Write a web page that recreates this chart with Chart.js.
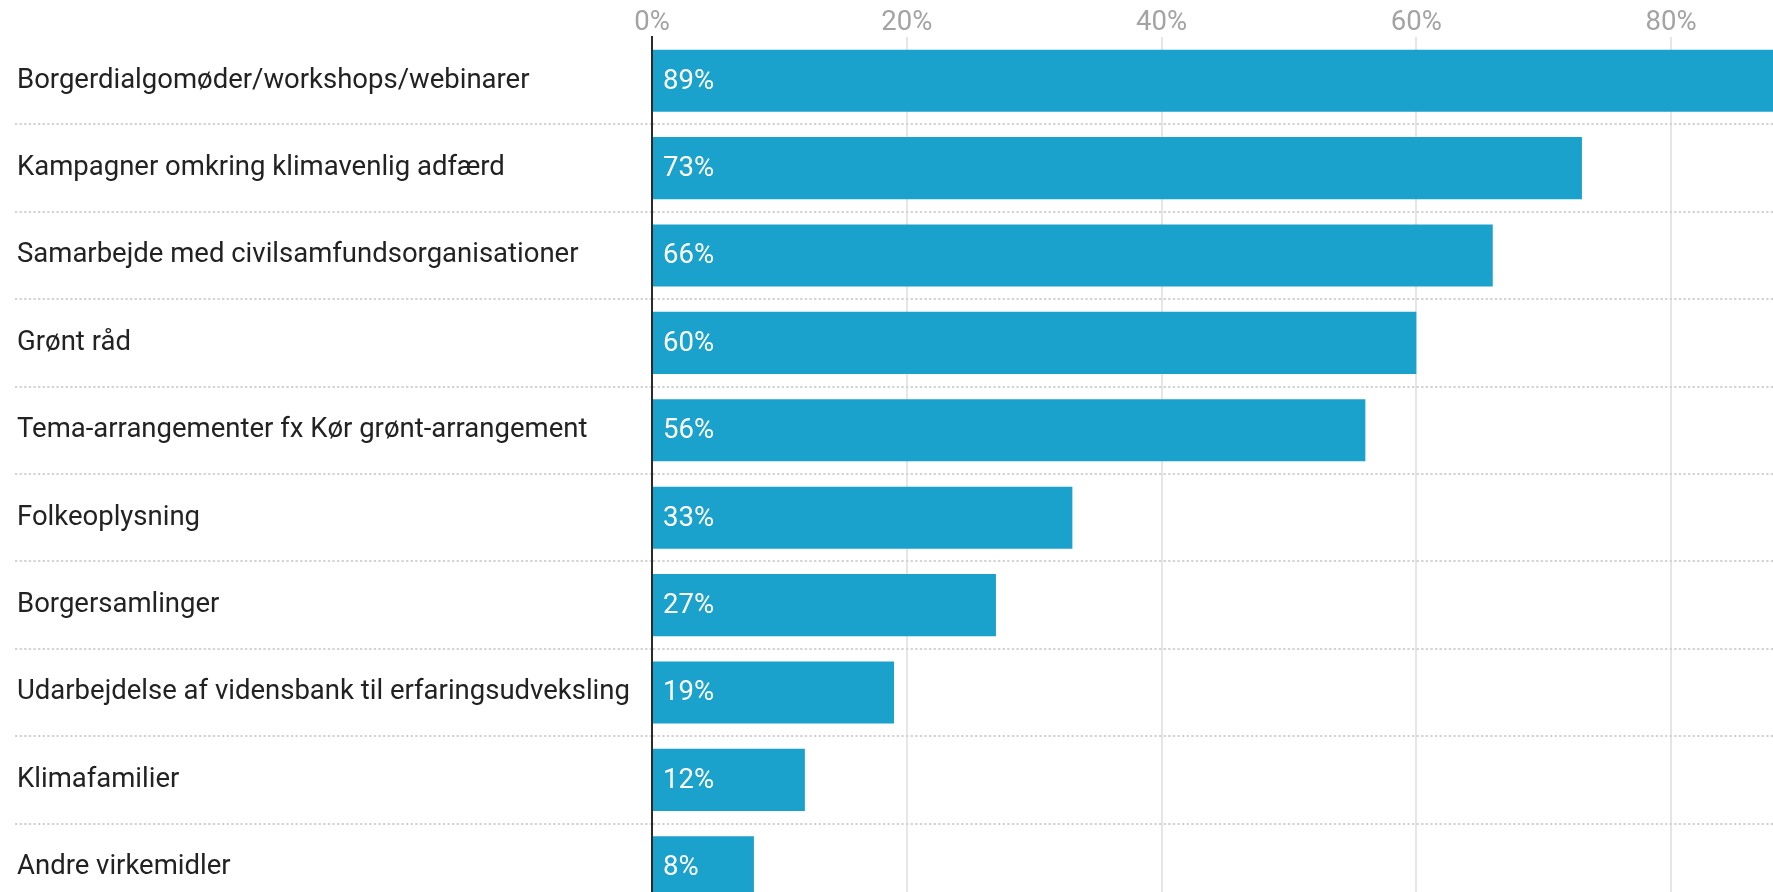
<!DOCTYPE html>
<html>
<head>
<meta charset="utf-8">
<script src="https://cdn.jsdelivr.net/npm/chart.js@4.4.1/dist/chart.umd.min.js"></script>
<style>
  html, body { margin: 0; padding: 0; background: #fff; overflow: hidden; }
  #wrap { position: absolute; left: 0; top: 0; width: 1773px; height: 892px; overflow: hidden; }
</style>
</head>
<body>
<div id="wrap"><canvas id="chartVirkemidler" width="1773" height="911"></canvas></div>
<script>
// Kategorier og andele (%)
const kategorier = [
    'Borgerdialgomøder/workshops/webinarer',
    'Kampagner omkring klimavenlig adfærd',
    'Samarbejde med civilsamfundsorganisationer',
    'Grønt råd',
    'Tema-arrangementer fx Kør grønt-arrangement',
    'Folkeoplysning',
    'Borgersamlinger',
    'Udarbejdelse af vidensbank til erfaringsudveksling',
    'Klimafamilier',
    'Andre virkemidler'
];
const andele = [89, 73, 66, 60, 56, 33, 27, 19, 12, 8];
const akseTicks = [0, 20, 40, 60, 80];

const FONT = 'Roboto';
const BLAA = '#1aa1cc';
const PRIKKER = '#d3d3d3';

// Tekst inde i søjlerne (89% osv.)
const vaerdiLabels = {
    id: 'vaerdiLabels',
    afterDatasetsDraw(chart) {
        const ctx = chart.ctx;
        const meta = chart.getDatasetMeta(0);
        ctx.save();
        ctx.fillStyle = '#ffffff';
        ctx.font = '27.5px ' + FONT;
        ctx.textAlign = 'left';
        ctx.textBaseline = 'middle';
        meta.data.forEach(function (bar, i) {
            ctx.fillText(andele[i] + '%', bar.base + 10, bar.y + 1);
        });
        ctx.restore();
    }
};

// skjul den øverste prikkede linje
const prikFarve = function (c) { return c.index === 0 ? 'rgba(0,0,0,0)' : PRIKKER; };

const config = {
    type: 'bar',
    data: {
        labels: kategorier,
        datasets: [{
            data: andele,
            backgroundColor: BLAA,
            barPercentage: 0.71,
            categoryPercentage: 1
        }]
    },
    options: {
        indexAxis: 'y',
        responsive: false,
        animation: false,
        devicePixelRatio: 1,
        layout: { padding: { left: 17, right: 0, top: 0, bottom: 0 } },
        plugins: {
            legend: { display: false },
            tooltip: { enabled: false }
        },
        scales: {
            x: {
                position: 'top',
                min: 0,
                max: 88,
                afterBuildTicks: function (scale) {
                    scale.ticks = akseTicks.map(function (v) { return { value: v }; });
                },
                afterFit: function (scale) { scale.height = 37; },
                ticks: {
                    callback: function (v) { return v + '%'; },
                    color: '#a3a3a3',
                    font: { family: FONT, size: 27.5 },
                    padding: -3
                },
                grid: {
                    color: '#e6e6e6',
                    lineWidth: 2,
                    drawTicks: false
                },
                border: { display: false }
            },
            y: {
                afterFit: function (scale) {
                    scale.width = 652 - 17;
                    scale.paddingTop = 0;
                    scale.paddingBottom = 0;
                },
                ticks: {
                    crossAlign: 'far',
                    color: '#222222',
                    font: { family: FONT, size: 27.5 },
                    padding: 0
                },
                grid: {
                    offset: true,
                    color: prikFarve,
                    lineWidth: 2,
                    tickLength: 637,
                    tickColor: prikFarve,
                    tickWidth: 2,
                    tickBorderDash: [2.3, 2.3]
                },
                border: { color: '#2b2b2b', width: 2, dash: [2.3, 2.3] }
            }
        }
    },
    plugins: [vaerdiLabels]
};

const chartVirkemidler = new Chart(document.getElementById('chartVirkemidler'), config);
</script>
</body>
</html>
